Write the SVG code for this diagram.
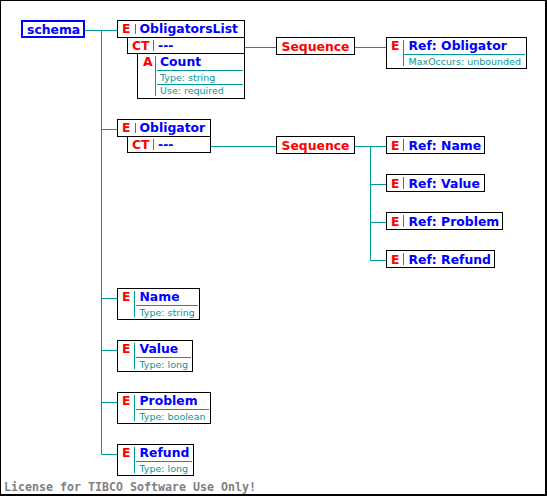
<svg xmlns="http://www.w3.org/2000/svg" width="547" height="496" viewBox="0 0 547 496">
<style>
.box{fill:#fff;stroke:#000;stroke-width:1}
.sep{stroke:#009999;stroke-width:1;fill:none}
.conn{stroke:#009999;stroke-width:1;fill:none}
.k{font-family:"DejaVu Sans",Verdana,sans-serif;font-weight:bold;font-size:12.4px;fill:#ff0000}
.n{font-family:"DejaVu Sans",Verdana,sans-serif;font-weight:bold;font-size:12.4px;fill:#0000ff}
.s{font-family:"DejaVu Sans",Verdana,sans-serif;font-size:9.5px;fill:#009999}
.lic{font-family:"DejaVu Sans Mono","Liberation Mono",monospace;font-weight:bold;font-size:11.6px;fill:#808080}
</style>
<rect x="0" y="0" width="547" height="496" fill="#fff"/>
<rect x="0.5" y="0.5" width="545" height="494" fill="none" stroke="#000"/>
<path d="M546.5 0V496M0 495.5H547" stroke="#000" fill="none"/>

<g id="connectors">
<path class="conn" d="M85 30.5H117M101.5 30.5V454.5M101.5 129.5H117M101.5 298.5H117M101.5 350.5H117M101.5 402.5H117M101.5 454.5H117"/>
<path class="conn" d="M244 47.5H276M355 47.5H386"/>
<path class="conn" d="M211 146.5H276M355 146.5H386M370.5 146.5V260.5M370.5 184.5H386M370.5 222.5H386M370.5 260.5H386"/>
</g>

<g id="schema">
<rect x="22" y="21" width="62" height="16" fill="#fff" stroke="#0000ff" stroke-width="2"/>
<text class="n" x="27" y="34">schema</text>
</g>

<g id="ObligatorsList">
<rect class="box" x="117.5" y="20.5" width="127" height="17"/>
<text class="k" x="122" y="33">E</text>
<line class="sep" x1="135.5" y1="24" x2="135.5" y2="34"/>
<text class="n" x="139.5" y="33">ObligatorsList</text>
<rect class="box" x="127.5" y="37.5" width="117" height="16"/>
<text class="k" x="132" y="50">CT</text>
<line class="sep" x1="153.5" y1="40" x2="153.5" y2="51"/>
<text class="n" x="158" y="50">---</text>
<g id="Count">
<rect class="box" x="137.5" y="53.5" width="107" height="45"/>
<text class="k" x="143" y="66">A</text>
<line class="sep" x1="155.5" y1="56" x2="155.5" y2="96"/>
<text class="n" x="160" y="66">Count</text>
<line class="sep" x1="157" y1="70.5" x2="243" y2="70.5"/>
<text class="s" x="160" y="80.5">Type: string</text>
<line class="sep" x1="157" y1="84.5" x2="243" y2="84.5"/>
<text class="s" x="160" y="94">Use: required</text>
</g>
</g>

<g id="Sequence1">
<rect class="box" x="276.5" y="37.5" width="78" height="17"/>
<text class="k" x="281.5" y="50.5">Sequence</text>
</g>

<g id="RefObligator">
<rect class="box" x="386.5" y="37.5" width="140" height="31"/>
<text class="k" x="391" y="50">E</text>
<line class="sep" x1="403.5" y1="40" x2="403.5" y2="66"/>
<text class="n" x="408.5" y="50">Ref: Obligator</text>
<line class="sep" x1="404" y1="54.5" x2="525" y2="54.5"/>
<text class="s" x="408.5" y="64.5">MaxOccurs: unbounded</text>
</g>

<g id="Obligator">
<rect class="box" x="117.5" y="119.5" width="93" height="17"/>
<text class="k" x="122" y="132">E</text>
<line class="sep" x1="135.5" y1="123" x2="135.5" y2="133"/>
<text class="n" x="139.5" y="132">Obligator</text>
<rect class="box" x="127.5" y="136.5" width="83" height="16"/>
<text class="k" x="132" y="149">CT</text>
<line class="sep" x1="153.5" y1="139" x2="153.5" y2="150"/>
<text class="n" x="158" y="149">---</text>
</g>

<g id="Sequence2">
<rect class="box" x="276.5" y="136.5" width="78" height="17"/>
<text class="k" x="281.5" y="149.5">Sequence</text>
</g>

<g id="RefName">
<rect class="box" x="386.5" y="136.5" width="98" height="17"/>
<text class="k" x="391" y="149.5">E</text>
<line class="sep" x1="403.5" y1="139" x2="403.5" y2="151"/>
<text class="n" x="408.5" y="149.5">Ref: Name</text>
</g>

<g id="RefValue">
<rect class="box" x="386.5" y="174.5" width="98" height="17"/>
<text class="k" x="391" y="187.5">E</text>
<line class="sep" x1="403.5" y1="177" x2="403.5" y2="189"/>
<text class="n" x="408.5" y="187.5">Ref: Value</text>
</g>

<g id="RefProblem">
<rect class="box" x="386.5" y="212.5" width="116" height="17"/>
<text class="k" x="391" y="225.5">E</text>
<line class="sep" x1="403.5" y1="215" x2="403.5" y2="227"/>
<text class="n" x="408.5" y="225.5">Ref: Problem</text>
</g>

<g id="RefRefund">
<rect class="box" x="386.5" y="250.5" width="108" height="17"/>
<text class="k" x="391" y="263.5">E</text>
<line class="sep" x1="403.5" y1="253" x2="403.5" y2="265"/>
<text class="n" x="408.5" y="263.5">Ref: Refund</text>
</g>

<g id="Name">
<rect class="box" x="117.5" y="288.5" width="82" height="31"/>
<text class="k" x="122" y="300.5">E</text>
<line class="sep" x1="134.5" y1="291" x2="134.5" y2="317"/>
<text class="n" x="139.5" y="300.5">Name</text>
<line class="sep" x1="136" y1="305.5" x2="198" y2="305.5"/>
<text class="s" x="139.5" y="315.5">Type: string</text>
</g>

<g id="Value">
<rect class="box" x="117.5" y="340.5" width="75" height="31"/>
<text class="k" x="122" y="352.5">E</text>
<line class="sep" x1="134.5" y1="343" x2="134.5" y2="369"/>
<text class="n" x="139.5" y="352.5">Value</text>
<line class="sep" x1="136" y1="357.5" x2="191" y2="357.5"/>
<text class="s" x="139.5" y="367.5">Type: long</text>
</g>

<g id="Problem">
<rect class="box" x="117.5" y="392.5" width="93" height="31"/>
<text class="k" x="122" y="404.5">E</text>
<line class="sep" x1="134.5" y1="395" x2="134.5" y2="421"/>
<text class="n" x="139.5" y="404.5">Problem</text>
<line class="sep" x1="136" y1="409.5" x2="209" y2="409.5"/>
<text class="s" x="139.5" y="419.5">Type: boolean</text>
</g>

<g id="Refund">
<rect class="box" x="117.5" y="444.5" width="76" height="31"/>
<text class="k" x="122" y="456.5">E</text>
<line class="sep" x1="134.5" y1="447" x2="134.5" y2="473"/>
<text class="n" x="139.5" y="456.5">Refund</text>
<line class="sep" x1="136" y1="461.5" x2="192" y2="461.5"/>
<text class="s" x="139.5" y="471.5">Type: long</text>
</g>

<text class="lic" x="4" y="490.5" textLength="252" lengthAdjust="spacing">License for TIBCO Software Use Only!</text>
</svg>
